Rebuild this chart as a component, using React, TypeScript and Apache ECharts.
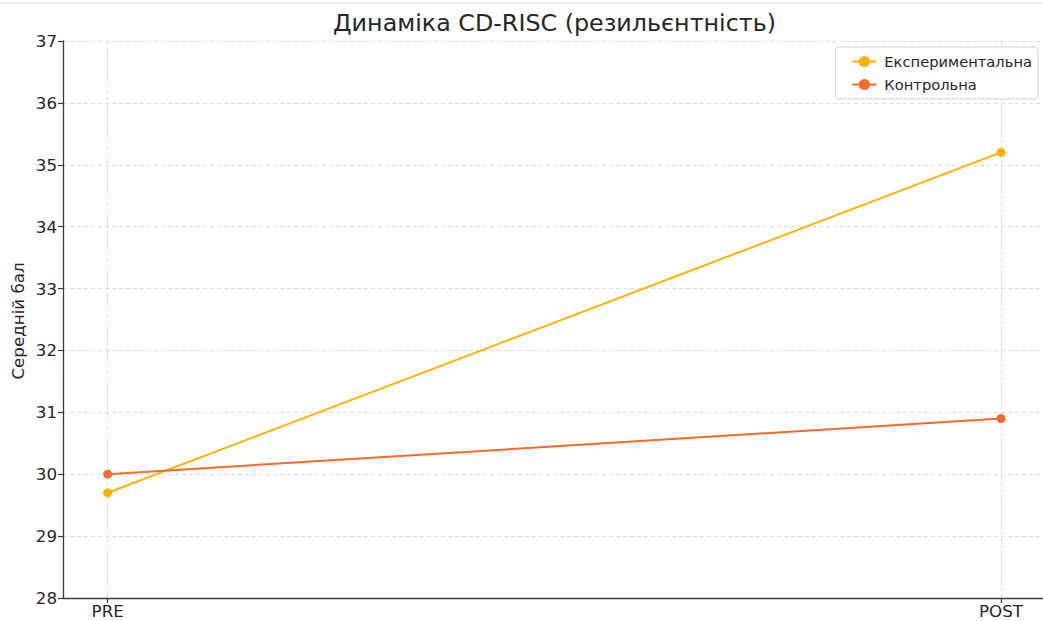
import React, { useEffect, useRef } from "react";
import * as echarts from "echarts";

const categories = ["PRE", "POST"];
const experimental = [29.7, 35.2];
const control = [30.0, 30.9];
const seriesNames = ["Експериментальна", "Контрольна"];
const yTicks = { min: 28, max: 37, interval: 1 };
const titleText = "Динаміка CD-RISC (резильєнтність)";
const yName = "Середній бал";

const FONT = "DejaVu Sans";

export default function App() {
  const ref = useRef<HTMLDivElement>(null);
  useEffect(() => {
    if (!ref.current) return;
    const chart = echarts.init(ref.current, undefined, { renderer: "svg" });
    const toPts = (arr: number[]) => arr.map((v, i) => [i, v]);
    const gridLine = { color: "#cfcfcf", width: 0.8, type: [4, 3] as any };
    chart.setOption({
      animation: false,
      backgroundColor: "#ffffff",
      textStyle: { fontFamily: FONT },
      grid: { left: 63, top: 41, right: 14.3, bottom: 23 },
      xAxis: {
        type: "value",
        min: -0.05,
        max: 1.05,
        axisLine: { show: true, onZero: false, lineStyle: { color: "#3a3a3a", width: 1.3 } },
        axisTick: { show: true, customValues: [0, 1], length: 5, lineStyle: { color: "#3a3a3a", width: 1.2 } },
        axisLabel: {
          customValues: [0, 1],
          formatter: (v: number) => categories[Math.round(v)] ?? "",
          color: "#262626",
          fontSize: 16.7,
          fontFamily: FONT,
          margin: 4,
        },
        splitLine: { show: false },
      },
      yAxis: {
        type: "value",
        min: yTicks.min,
        max: yTicks.max,
        interval: yTicks.interval,
        axisLine: { show: true, onZero: false, lineStyle: { color: "#3a3a3a", width: 1.3 } },
        axisTick: { show: true, length: 5, lineStyle: { color: "#3a3a3a", width: 1.2 } },
        axisLabel: { color: "#262626", fontSize: 16.7, fontFamily: FONT, margin: 6 },
        splitLine: { show: true, lineStyle: gridLine },
      },
      legend: {
        orient: "vertical",
        right: 22,
        top: 47,
        align: "left",
        backgroundColor: "#ffffff",
        borderColor: "#d3d3d3",
        borderWidth: 1,
        borderRadius: 3,
        padding: [7, 6, 7, 16],
        itemWidth: 24,
        itemHeight: 14,
        itemGap: 8,
        textStyle: { fontSize: 14.7, color: "#262626", fontFamily: FONT, padding: [0, 0, 0, 3] },
        data: seriesNames,
      },
      graphic: [
        {
          type: "line",
          shape: { x1: 0, y1: 3, x2: 1060, y2: 3 },
          style: { stroke: "#e6e6e6", lineWidth: 1 },
          silent: true,
        },
        {
          type: "text",
          x: 554.5,
          y: 23,
          style: {
            text: titleText,
            fontSize: 23.8,
            fontFamily: FONT,
            fill: "#262626",
            textAlign: "center",
            textVerticalAlign: "middle",
          },
        },
        {
          type: "text",
          x: 18,
          y: 321,
          rotation: Math.PI / 2,
          style: {
            text: yName,
            fontSize: 16.7,
            fontFamily: FONT,
            fill: "#262626",
            textAlign: "center",
            textVerticalAlign: "middle",
          },
        },
      ],
      series: [
        {
          type: "line",
          name: "__grid",
          data: [],
          z: 0,
          silent: true,
          markLine: {
            z: 0,
            silent: true,
            symbol: ["none", "none"],
            label: { show: false },
            lineStyle: gridLine,
            data: categories.map((_, i) => ({ xAxis: i })),
          },
        },
        {
          type: "line",
          name: seriesNames[0],
          data: toPts(experimental),
          color: "#FFB000",
          symbol: "circle",
          symbolSize: 9,
          lineStyle: { width: 2, color: "#FFB000" },
          itemStyle: { color: "#FFB000" },
          z: 3,
        },
        {
          type: "line",
          name: seriesNames[1],
          data: toPts(control),
          color: "#F26B2A",
          symbol: "circle",
          symbolSize: 9,
          lineStyle: { width: 2, color: "#F26B2A" },
          itemStyle: { color: "#F26B2A" },
          z: 4,
        },
      ],
    });
    return () => chart.dispose();
  }, []);
  return (
    <div
      style={{
        position: "fixed",
        left: 0,
        top: 0,
        width: 1043,
        height: 621,
        overflow: "hidden",
        background: "#fff",
      }}
    >
      <div ref={ref} style={{ width: 1060, height: 621 }} />
    </div>
  );
}
